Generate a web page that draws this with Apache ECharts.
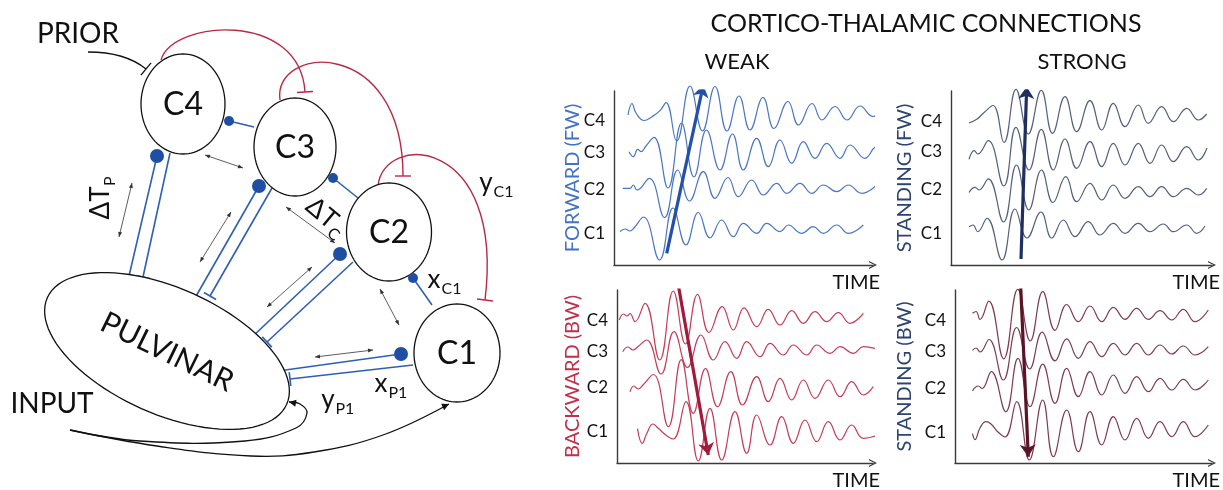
<!DOCTYPE html>
<html><head><meta charset="utf-8">
<script src="https://cdn.jsdelivr.net/npm/echarts@6/dist/echarts.min.js"></script>
<style>html,body{margin:0;padding:0;background:#fff}#c{width:1223px;height:490px}</style>
</head><body><div id="c"></div>
<script>
const FONT = "Lato, 'Open Sans', 'DejaVu Sans', sans-serif";

// ---------- texts ----------
const headerTitle = 'CORTICO-THALAMIC CONNECTIONS';
const columnTitles = ['WEAK', 'STRONG'];
const rowTitles = ['FORWARD (FW)', 'STANDING (FW)', 'BACKWARD (BW)', 'STANDING (BW)'];
const channelNames = ['C1', 'C2', 'C3', 'C4'];
const timeLabel = 'TIME';
const channelTicks = [[31,75,112,144],[31,75,113,143],[31,75,111,142],[30,74,111,142]];

// ---------- traces: [time, value] ----------
const fwWeakC4 = [[14,150],[18,161.5],[22,152],[30,144.5],[38,148.3],[46,154.3],[52,162.3],[62.7,124],[76,179],[88.5,134],[101,178.5],[113,134],[125,169],[136,135],[149,167.5],[160,136.5],[174,163.5],[184.5,140],[198,161.5],[208,145],[221,158.5],[233,145],[246,159],[259,148.5],[266,153.5]];
const fwWeakC3 = [[15,113.3],[19.3,108.3],[23.7,115.7],[27,113.3],[32,119],[40,127.7],[54,77],[67.5,142],[80,88],[92.5,135],[106,95],[118.5,131],[129.3,95],[142.7,126.7],[154.3,98.3],[166,125],[177.7,101.7],[189.3,123.3],[201,106.7],[212.7,121.7],[226,106.7],[236,120],[251,106.7],[262.7,118.3],[266,116.7]];
const fwWeakC2 = [[8.7,76.7],[16,76.7],[19.3,80],[23,75],[35.3,86.7],[50.5,47.5],[63.7,95],[75.5,64],[89.3,93.3],[101,66.7],[114,87.5],[124.3,68.3],[137.7,85],[149.3,70],[162.7,81.7],[172.7,71.7],[186,81.7],[197.7,71.7],[209.3,80],[222.7,73.3],[234.3,80],[247.7,71.7],[262.7,80]];
const fwWeakC1 = [[6,33.3],[11,36],[16,34],[20,37],[29.5,48],[45.5,5],[59,57],[72,20],[84.3,52.5],[96,27],[107.7,45],[119.3,28.3],[129.3,41.7],[142.7,31.7],[152.7,41.7],[166,33.3],[174.3,40],[187.7,31.7],[199.3,38.3],[209.3,31.7],[222.7,40],[234.3,31.7],[249.3,40]];
const fwWeakArrow = [[52.7,11.7],[89.3,180]];

const fwStrongC4 = [[18,142],[25.7,145.7],[32.3,151.7],[42,159.5],[53,122.5],[65,175.7],[77.3,131],[90.3,174.7],[101.5,131.7],[114,168.3],[125.7,133.3],[139,164.3],[150.7,135],[162.3,161.7],[174,138.3],[187.3,160],[197.3,141.7],[210.7,158.3],[222.3,143.3],[235.7,156.7],[247.3,145],[255.7,151]];
const fwStrongC3 = [[18,105.7],[23.3,114.3],[26.7,111],[37.3,124.3],[52.8,79],[65,137.7],[78,95],[90.3,135.7],[102.3,95],[114,126],[125.7,96.7],[139,123.3],[150.7,98.3],[162.3,121.7],[174,100],[187.3,121.7],[199,101.7],[210.7,120],[222.3,103.3],[235.7,118.3],[247.3,105],[256,117]];
const fwStrongC2 = [[18,72.5],[24,77.7],[28,75],[37.3,86.2],[52.5,43],[65.5,100],[77.8,55],[90.5,95],[102,62.5],[114.8,88.3],[125.7,63.3],[139,81.7],[150.7,65],[162.3,80],[174,66.7],[187.3,78.3],[199,68.3],[210.7,78.3],[222.3,68.3],[235.7,76.7],[247.3,70],[255.7,76.7]];
const fwStrongC1 = [[18,38.3],[22,40],[26.7,33.3],[36,46.7],[51,5],[64,56],[76,27],[90,53],[100.7,27],[112.3,45],[124,28.3],[137.3,43.3],[149,30],[162.3,41.7],[174,31.7],[187.3,41.7],[199,33.3],[212.3,41],[222.3,33.3],[235.7,40],[245.7,31.7],[254,39]];
const fwStrongArrow = [[70,6],[75.7,178.3]];

const bwWeakC4 = [[2.3,143],[6.5,149],[10,147],[13,149.5],[18,141.3],[28,159.7],[42.7,103],[56.3,172],[68.5,119],[80.5,168.5],[92,130.5],[105.2,156.3],[116.3,133],[127,155.2],[139.7,136.3],[151.3,153.7],[163,138],[174.7,152.3],[186.3,139.7],[198,151.3],[209.7,141.3],[221.3,150.3],[233,139.7],[246.3,149.7]];
const bwWeakC3 = [[5.7,111.3],[11,116],[16,113],[21,116.5],[29.7,123],[44,89],[57,131.3],[70.5,95.5],[84,128],[96.3,103],[108,121.3],[119.7,104.7],[129.7,121.3],[143,106.3],[153,119.7],[166.3,108],[176.3,118],[189.7,108],[199.7,118],[213,109.7],[223,116.3],[236.3,109.7],[246.3,116.3],[258,114.7]];
const bwWeakC2 = [[13,71.3],[17,77],[21,74],[26,78],[36.3,88.5],[51.3,36.3],[64.3,103.3],[76.3,49.7],[88.5,94.3],[100.5,56.3],[113.8,91.3],[125.5,58],[139.7,86.3],[151.3,61.3],[163,84.7],[174.7,63],[186.3,83],[198,64.7],[211.3,83],[223,66.3],[234.7,81.3],[246.3,68],[256.3,76.3]];
const bwWeakC1 = [[20.5,34.3],[25.2,19.7],[30,30],[36,39],[41,35],[50,27],[56.3,24],[69,61.3],[81.3,2],[93,54.7],[104.7,3],[118,51.3],[129.7,9.7],[139.7,48],[153,18],[164.7,46.3],[176.3,19.7],[188,43],[199.7,21.3],[211.3,41.3],[223,23],[234.7,38],[246.3,24.7],[265.7,29.7]];
const bwWeakArrow = [[61.3,178],[91.3,8]];

const bwStrongC4 = [[17.5,149.7],[21,151.5],[25,143.5],[33.8,161.8],[48.7,104.2],[62.8,173.7],[75.3,122],[87.8,171.3],[100,132.7],[111.7,158.5],[123.3,141.3],[135,157],[146.7,141.3],[158.3,155.7],[170,143.7],[181.7,154.7],[193.3,143.7],[205,152.3],[216.7,143],[228.3,153.7],[240,141.3],[253.3,153]];
const bwStrongC3 = [[17.5,112.7],[21,115],[25,111],[34,123.5],[48.3,83],[61.7,135.5],[74.7,94],[87.2,130.8],[100,102.2],[111.7,124.2],[123.3,104.7],[135,121.3],[146.7,106.3],[158.3,119.7],[170,108],[181.7,119.7],[193.3,108],[205,118],[216.7,109],[228.3,117],[240,108],[253.3,116.3]];
const bwStrongC2 = [[17.5,72.2],[23.3,77],[27,74.5],[36.3,91.3],[50.8,51.3],[63,104.7],[75,56.3],[87.8,98.8],[100,59.7],[111.7,94.7],[123.3,66.3],[135,91.3],[146.7,68],[158.3,88],[170,69.7],[181.7,86.3],[193.3,71.3],[205,84.7],[216.7,73],[228.3,83.7],[240,73],[253.3,83]];
const bwStrongC1 = [[17.5,29.3],[20,23.3],[25,35],[31,41.3],[36,39],[43,31],[50,26],[61.7,61.3],[74.3,3],[87.7,63],[98.3,6.3],[111.7,53],[123.3,11.3],[135,51.3],[146.7,18],[158.3,46.3],[170,23],[181.7,44.7],[193.3,24.7],[205,41.3],[216.7,26.3],[228.3,41.3],[240,26.3],[253.3,38]];
const bwStrongArrow = [[65.7,176.3],[73.3,6.3]];

// ---------- diagram (left) ----------
const diagramNodes = [
  {name:'C4', x:183, y:104, rx:42, ry:50, tilt:0, size:32},
  {name:'C3', x:295, y:147, rx:41, ry:49, tilt:0, size:32},
  {name:'C2', x:389, y:232, rx:42.5, ry:49, tilt:0, size:32},
  {name:'C1', x:457, y:353, rx:43, ry:49, tilt:0, size:32},
  {name:'PULVINAR', x:167, y:351, rx:131, ry:63, tilt:24, size:30, textTilt:-26}
];
// [x1,y1,x2,y2, dotRadiusAtStart, barAtEnd]
const excitLinks = [
  [229,121,254,127,5,0],[333,178,358,198,5,0],[413,278,432,305,5,0],
  [157,156,129,276,7,0],[170,153,143,277,0,1],
  [259,186,195,298,7,0],[272,188,210,296,0,1],
  [340,254,252,337,7,0],[353,262,267,342,0,1],
  [401,354,278,371,7,0],[413,365,290,379,0,1]
];
// cubic curves [x1,y1,cx1,cy1,cx2,cy2,x2,y2] ending with a bar
const inhibArcs = [
  [161,60,172,20,300,10,305,92],
  [280,100,272,45,403,35,403,176],
  [378,186,383,132,505,135,485,300]
];
const priorLink = [88,52,118,52,135,60,146,69];
const inputCurves = [
  [[70,430],[140,441],[245,441],[296,428],[307,413],[300,404],[289,402]],
  [[70,430],[157,446],[251,456],[314,452],[383,435],[449,404]]
];
const delayArrows = [
  [205,155,243,168],[132,183,119,237],[231,212,200,262],[286,207,335,243],
  [267,307,312,267],[380,289,399,325],[315,357,373,350]
];
const plainLabels = [['PRIOR',78,34,28,0],['INPUT',52,404,28,0]];
const subLabels = [
  ['y','C1',486,183,0],['x','C1',434,280,0],['x','P1',381,384,0],
  ['y','P1',328,400,0],['ΔT','P',101,203,90],['ΔT','C',322,213,-40]
];

// ---------- build ----------
const BLUE = '#2f5fb3', DOT = '#1f4fa3', RED = '#b82a44', BLACK = '#111';
const diagramItems = [];
inputCurves.forEach(p => diagramItems.push({kind:'curve', pts:p}));
diagramItems.push({kind:'arc', b:priorLink, color:BLACK, lw:1.3});
inhibArcs.forEach(b => diagramItems.push({kind:'arc', b, color:RED, lw:1.4}));
delayArrows.forEach(a => diagramItems.push({kind:'delay', a}));
excitLinks.forEach(l => diagramItems.push({kind:'link', l}));
diagramNodes.forEach(n => diagramItems.push({kind:'node', n}));
excitLinks.forEach(l => { if (l[4]) diagramItems.push({kind:'dot', l}); });
plainLabels.forEach(t => diagramItems.push({kind:'label', t}));
subLabels.forEach(t => diagramItems.push({kind:'sub', t}));

function unit(ax, ay, bx, by) { const dx = bx-ax, dy = by-ay, L = Math.hypot(dx,dy)||1; return [dx/L, dy/L]; }
function barAt(E, d, h, color, lw) {
  const n = [-d[1], d[0]];
  return {type:'line', shape:{x1:E[0]+n[0]*h, y1:E[1]+n[1]*h, x2:E[0]-n[0]*h, y2:E[1]-n[1]*h}, style:{stroke:color, lineWidth:lw}};
}
function headAt(T, d, len, w, color) {
  const n = [-d[1], d[0]];
  return {type:'polygon', shape:{points:[T,[T[0]-d[0]*len+n[0]*w, T[1]-d[1]*len+n[1]*w],[T[0]-d[0]*len-n[0]*w, T[1]-d[1]*len-n[1]*w]]}, style:{fill:color}};
}
function txt(text, x, y, size, extra) {
  return Object.assign({type:'text', x, y, style:{text, fontSize:size, fontFamily:FONT, fill:BLACK, align:'center', verticalAlign:'middle', textAlign:'center', textVerticalAlign:'middle'}}, extra||{});
}

function renderDiagram(params, api) {
  const it = diagramItems[params.dataIndex];
  const P = (x, y) => api.coord([x, y]);
  const ch = [];
  if (it.kind === 'curve') {
    const pts = it.pts.map(p => P(p[0], p[1]));
    ch.push({type:'polyline', shape:{points:pts, smooth:0.4}, style:{stroke:BLACK, fill:'none', lineWidth:1.3}});
    const a = pts[pts.length-2], b = pts[pts.length-1];
    ch.push(headAt(b, unit(a[0],a[1],b[0],b[1]), 7, 3.5, BLACK));
  } else if (it.kind === 'arc') {
    const q = it.b, s = P(q[0],q[1]), c1 = P(q[2],q[3]), c2 = P(q[4],q[5]), e = P(q[6],q[7]);
    ch.push({type:'bezierCurve', shape:{x1:s[0],y1:s[1],cpx1:c1[0],cpy1:c1[1],cpx2:c2[0],cpy2:c2[1],x2:e[0],y2:e[1]}, style:{stroke:it.color, fill:'none', lineWidth:it.lw}});
    ch.push(barAt(e, unit(c2[0],c2[1],e[0],e[1]), 8, it.color, it.lw));
  } else if (it.kind === 'delay') {
    const a = P(it.a[0],it.a[1]), b = P(it.a[2],it.a[3]);
    const d = unit(a[0],a[1],b[0],b[1]);
    ch.push({type:'line', shape:{x1:a[0],y1:a[1],x2:b[0],y2:b[1]}, style:{stroke:'#333', lineWidth:0.8}});
    ch.push(headAt(b, d, 5, 2, '#333'));
    ch.push(headAt(a, [-d[0],-d[1]], 5, 2, '#333'));
  } else if (it.kind === 'link') {
    const l = it.l, a = P(l[0],l[1]), b = P(l[2],l[3]);
    ch.push({type:'line', shape:{x1:a[0],y1:a[1],x2:b[0],y2:b[1]}, style:{stroke:BLUE, lineWidth:1.6}});
    if (l[5]) ch.push(barAt(b, unit(a[0],a[1],b[0],b[1]), 7, BLUE, 1.6));
  } else if (it.kind === 'dot') {
    const l = it.l, a = P(l[0],l[1]);
    ch.push({type:'circle', shape:{cx:a[0], cy:a[1], r:l[4]}, style:{fill:DOT}});
  } else if (it.kind === 'node') {
    const n = it.n, phi = n.tilt*Math.PI/180, pts = [];
    for (let k = 0; k < 96; k++) {
      const t = k/96*2*Math.PI;
      pts.push(P(n.x + n.rx*Math.cos(t)*Math.cos(phi) - n.ry*Math.sin(t)*Math.sin(phi),
                 n.y + n.rx*Math.cos(t)*Math.sin(phi) + n.ry*Math.sin(t)*Math.cos(phi)));
    }
    ch.push({type:'polygon', shape:{points:pts}, style:{fill:'#fff', stroke:BLACK, lineWidth:1.3}});
    const c = P(n.x, n.y);
    ch.push(txt(n.name, c[0], c[1]+1, n.size, {rotation:(n.textTilt||0)*Math.PI/180}));
  } else if (it.kind === 'label') {
    const t = it.t, c = P(t[1], t[2]);
    ch.push(txt(t[0], c[0], c[1], t[3], {rotation:t[4]*Math.PI/180}));
  } else if (it.kind === 'sub') {
    const t = it.t, c = P(t[2], t[3]);
    const half = t[0].length > 1 ? 16 : 6.5;
    ch.push({type:'group', x:c[0], y:c[1], rotation:t[4]*Math.PI/180, children:[
      txt(t[0], 0, 0, 26),
      {type:'text', x:half+1, y:9, style:{text:t[1], fontSize:16, fontFamily:FONT, fill:BLACK, align:'left', verticalAlign:'middle', textAlign:'left', textVerticalAlign:'middle'}}
    ]});
  }
  return {type:'group', children:ch};
}

const panels = [
  {grid:{left:614, top:91, width:259, height:174}, traces:[fwWeakC1,fwWeakC2,fwWeakC3,fwWeakC4], arrow:fwWeakArrow, wave:'#4a76c4', arrowColor:'#2450a8', nameColor:'#4472c4', nameGap:31, timeGap:7},
  {grid:{left:951, top:91, width:261, height:174}, traces:[fwStrongC1,fwStrongC2,fwStrongC3,fwStrongC4], arrow:fwStrongArrow, wave:'#55607e', arrowColor:'#1f3060', nameColor:'#2e4470', nameGap:36, timeGap:8},
  {grid:{left:617, top:290, width:256, height:173}, traces:[bwWeakC1,bwWeakC2,bwWeakC3,bwWeakC4], arrow:bwWeakArrow, wave:'#c43c58', arrowColor:'#a01c3a', nameColor:'#c0304a', nameGap:34, timeGap:7},
  {grid:{left:955, top:290, width:257, height:173}, traces:[bwStrongC1,bwStrongC2,bwStrongC3,bwStrongC4], arrow:bwStrongArrow, wave:'#7e3c52', arrowColor:'#5a1428', nameColor:'#2e4470', nameGap:40, timeGap:8}
];
const chevron = 'path://M0,10 L5,0 L10,10 L8.4,10 L5,3.2 L1.6,10 Z';

const grids = [], xAxes = [], yAxes = [], series = [];
panels.forEach((p, i) => {
  grids.push(Object.assign({containLabel:false, outerBoundsMode:'none'}, p.grid));
  xAxes.push({type:'value', gridIndex:i, min:0, max:p.grid.width,
    axisLine:{show:true, onZero:false, lineStyle:{color:'#3a3a3a', width:1.4}, symbol:['none', chevron], symbolSize:[9,8]},
    axisTick:{show:false}, axisLabel:{show:false}, splitLine:{show:false},
    name:timeLabel, nameLocation:'end', nameGap:p.timeGap, nameMoveOverlap:false,
    nameTextStyle:{fontFamily:FONT, fontSize:20, color:BLACK, align:'right', verticalAlign:'top', padding:[8,0,0,0]}});
  const ticks = channelTicks[i];
  yAxes.push({type:'value', gridIndex:i, min:0, max:p.grid.height,
    axisLine:{show:true, onZero:false, lineStyle:{color:'#3a3a3a', width:1.4}},
    axisTick:{show:false}, splitLine:{show:false},
    axisLabel:{show:true, customValues:ticks, formatter:v => channelNames[ticks.indexOf(v)] || '', margin:9, fontSize:17, color:BLACK, fontFamily:FONT},
    name:rowTitles[i], nameLocation:'middle', nameRotate:90, nameGap:p.nameGap, nameMoveOverlap:false,
    nameTextStyle:{fontFamily:FONT, fontSize:20, color:p.nameColor}});
  p.traces.forEach((tr, c) => series.push({type:'line', name:rowTitles[i]+' '+channelNames[c], xAxisIndex:i, yAxisIndex:i, data:tr,
    showSymbol:false, symbol:'none', smooth:0.45, clip:false, silent:true, z:2,
    lineStyle:{color:p.wave, width:1.2}}));
  series.push({type:'lines', coordinateSystem:'cartesian2d', xAxisIndex:i, yAxisIndex:i, silent:true, z:5,
    data:[{coords:p.arrow}], symbol:['none','arrow'], symbolSize:12,
    lineStyle:{color:p.arrowColor, width:3.2, opacity:1, curveness:0}});
});
grids.push({left:0, top:0, width:540, height:490, containLabel:false, outerBoundsMode:'none'});
xAxes.push({type:'value', gridIndex:4, min:0, max:540, show:false});
yAxes.push({type:'value', gridIndex:4, min:0, max:490, inverse:true, show:false});
series.push({type:'custom', xAxisIndex:4, yAxisIndex:4, silent:true, z:1,
  data:diagramItems.map(() => [0, 0]), renderItem:renderDiagram});

const chart = echarts.init(document.getElementById('c'));
chart.setOption({
  animation:false,
  backgroundColor:'#fff',
  title:[
    {text:headerTitle, left:921, top:6, textAlign:'center', textStyle:{fontFamily:FONT, fontSize:25, fontWeight:'normal', color:BLACK}},
    {text:columnTitles[0], left:732, top:46, textAlign:'center', textStyle:{fontFamily:FONT, fontSize:22, fontWeight:'normal', color:BLACK}},
    {text:columnTitles[1], left:1077, top:46, textAlign:'center', textStyle:{fontFamily:FONT, fontSize:22, fontWeight:'normal', color:BLACK}}
  ],
  grid:grids, xAxis:xAxes, yAxis:yAxes, series:series
});
</script></body></html>
